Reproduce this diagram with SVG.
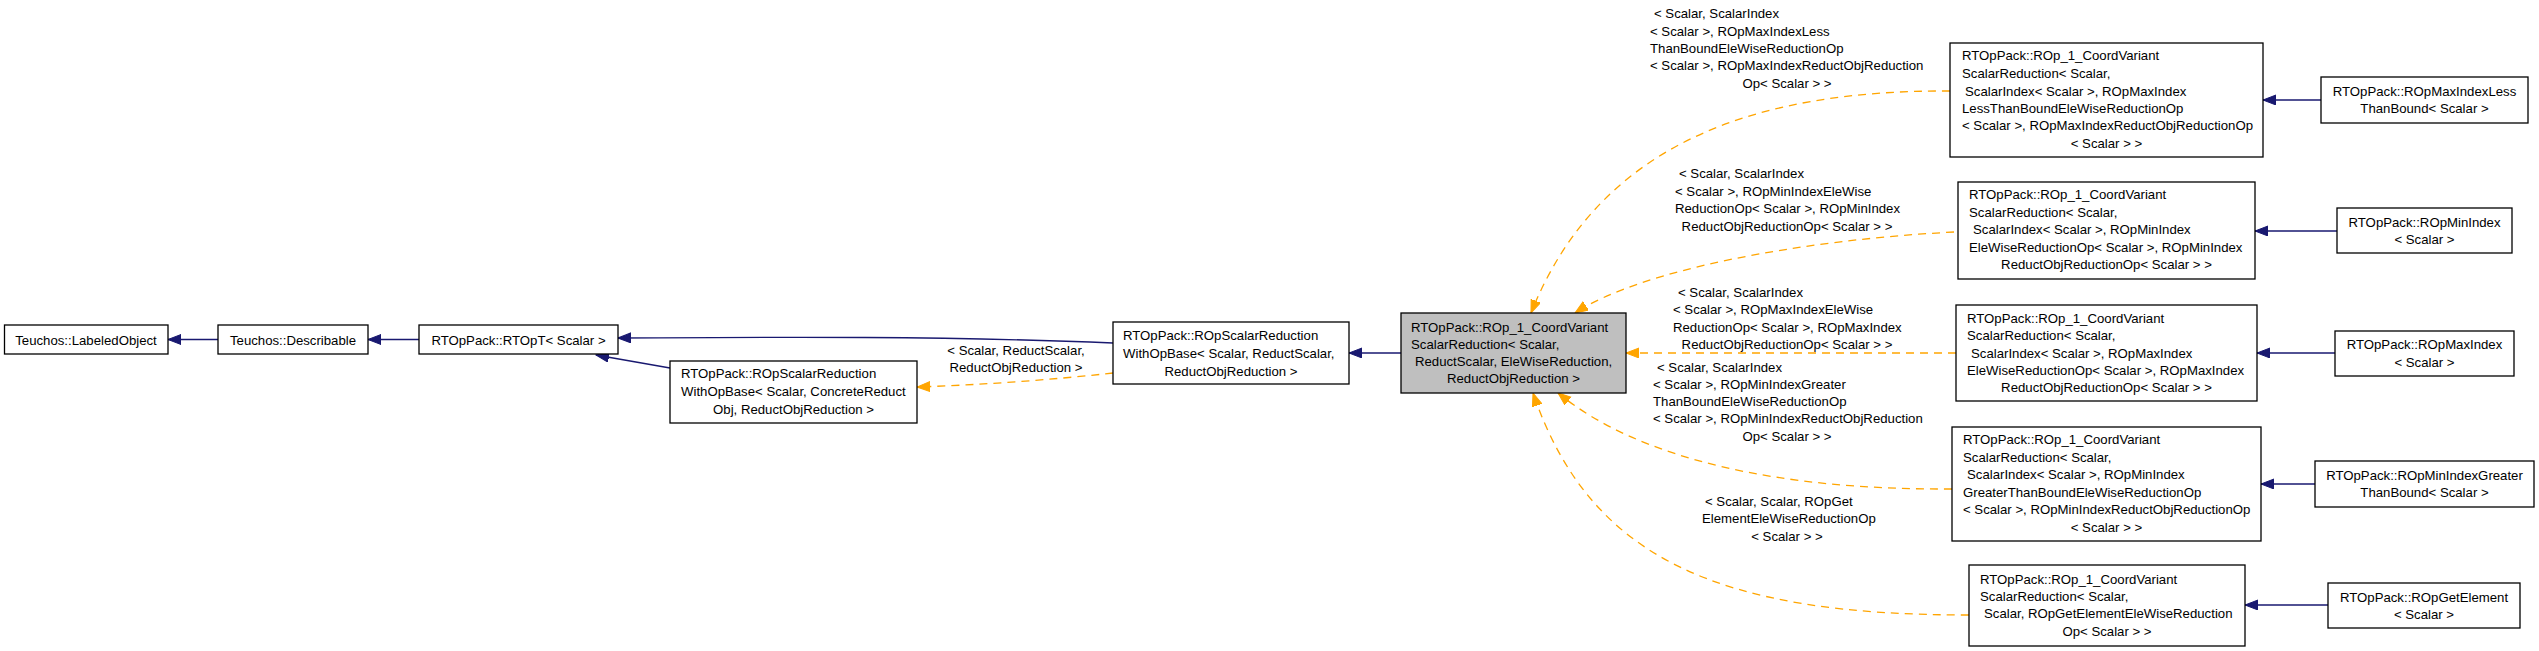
<svg xmlns="http://www.w3.org/2000/svg" width="2539" height="651" viewBox="0 0 2539 651">
<style>
  text { font-family: "Liberation Sans", Arial, sans-serif; font-size: 13.2px; fill: #000; }
  .c { text-anchor: middle; }
  .node rect { fill: #fff; stroke: #000; stroke-width: 1.3; }
  .main rect { fill: #bfbfbf; }
  .inh { fill: none; stroke: #191970; stroke-width: 1.3; }
  .tpl { fill: none; stroke: #ffa500; stroke-width: 1.3; stroke-dasharray: 8,6; }
</style>
<defs>
  <marker id="ab" markerUnits="userSpaceOnUse" markerWidth="14" markerHeight="12" refX="13" refY="5" orient="auto">
    <polygon points="0,0 13,5 0,10" fill="#191970" stroke="#191970"/>
  </marker>
  <marker id="ao" markerUnits="userSpaceOnUse" markerWidth="14" markerHeight="12" refX="13" refY="5" orient="auto">
    <polygon points="0,0 13,5 0,10" fill="#ffa500" stroke="#ffa500"/>
  </marker>
</defs>
<rect width="2539" height="651" fill="#fff"/>

<g id="connectors">
  <path class="inh" d="M218,339.5 L168,339.5" marker-end="url(#ab)"/>
  <path class="inh" d="M419,339.5 L368,339.5" marker-end="url(#ab)"/>
  <path class="inh" d="M1113,343 C950,336 780,337 618,338" marker-end="url(#ab)"/>
  <path class="inh" d="M670,368 L596,355" marker-end="url(#ab)"/>
  <path class="inh" d="M1401,353 L1349,353" marker-end="url(#ab)"/>
  <path class="tpl" d="M1113,373 C1050,380 980,385 917,387" marker-end="url(#ao)"/>
  <path class="tpl" d="M1950,91 C1760,90 1600,140 1531,313" marker-end="url(#ao)"/>
  <path class="tpl" d="M1954,232 C1800,240 1640,270 1575,313" marker-end="url(#ao)"/>
  <path class="tpl" d="M1956,353 L1626,353" marker-end="url(#ao)"/>
  <path class="tpl" d="M1952,489 C1780,490 1640,460 1558,393" marker-end="url(#ao)"/>
  <path class="tpl" d="M1969,615 C1720,615 1590,560 1533,393" marker-end="url(#ao)"/>
  <path class="inh" d="M2321,100 L2263,100" marker-end="url(#ab)"/>
  <path class="inh" d="M2337,231 L2255,231" marker-end="url(#ab)"/>
  <path class="inh" d="M2335,353 L2257,353" marker-end="url(#ab)"/>
  <path class="inh" d="M2315,484 L2261,484" marker-end="url(#ab)"/>
  <path class="inh" d="M2328,605 L2245,605" marker-end="url(#ab)"/>
</g>

<g id="edge-labels">
  <text x="1016" y="355" class="c">&lt; Scalar, ReductScalar,</text>
  <text x="1016" y="372" class="c">ReductObjReduction &gt;</text>

  <text x="1654" y="18">&lt; Scalar, ScalarIndex</text>
  <text x="1650" y="36">&lt; Scalar &gt;, ROpMaxIndexLess</text>
  <text x="1650" y="53">ThanBoundEleWiseReductionOp</text>
  <text x="1650" y="70">&lt; Scalar &gt;, ROpMaxIndexReductObjReduction</text>
  <text x="1787" y="88" class="c">Op&lt; Scalar &gt; &gt;</text>

  <text x="1679" y="178">&lt; Scalar, ScalarIndex</text>
  <text x="1675" y="195.5">&lt; Scalar &gt;, ROpMinIndexEleWise</text>
  <text x="1675" y="213">ReductionOp&lt; Scalar &gt;, ROpMinIndex</text>
  <text x="1787" y="230.5" class="c">ReductObjReductionOp&lt; Scalar &gt; &gt;</text>

  <text x="1678" y="296.5">&lt; Scalar, ScalarIndex</text>
  <text x="1673" y="314">&lt; Scalar &gt;, ROpMaxIndexEleWise</text>
  <text x="1673" y="331.5">ReductionOp&lt; Scalar &gt;, ROpMaxIndex</text>
  <text x="1787" y="349" class="c">ReductObjReductionOp&lt; Scalar &gt; &gt;</text>

  <text x="1657" y="372">&lt; Scalar, ScalarIndex</text>
  <text x="1653" y="389">&lt; Scalar &gt;, ROpMinIndexGreater</text>
  <text x="1653" y="406">ThanBoundEleWiseReductionOp</text>
  <text x="1653" y="423">&lt; Scalar &gt;, ROpMinIndexReductObjReduction</text>
  <text x="1787" y="441" class="c">Op&lt; Scalar &gt; &gt;</text>

  <text x="1705" y="506">&lt; Scalar, Scalar, ROpGet</text>
  <text x="1702" y="523">ElementEleWiseReductionOp</text>
  <text x="1787" y="541" class="c">&lt; Scalar &gt; &gt;</text>
</g>

<g id="n-labeledobject" class="node">
  <rect x="4.5" y="325" width="163.5" height="29"/>
  <text x="86" y="344.5" class="c">Teuchos::LabeledObject</text>
</g>
<g id="n-describable" class="node">
  <rect x="218" y="325" width="150" height="29"/>
  <text x="293" y="344.5" class="c">Teuchos::Describable</text>
</g>
<g id="n-rtopt" class="node">
  <rect x="419" y="325" width="199" height="29"/>
  <text x="518.5" y="344.5" class="c">RTOpPack::RTOpT&lt; Scalar &gt;</text>
</g>
<g id="n-concrete" class="node">
  <rect x="670" y="361" width="247" height="62"/>
  <text x="681" y="378">RTOpPack::ROpScalarReduction</text>
  <text x="681" y="396">WithOpBase&lt; Scalar, ConcreteReduct</text>
  <text x="793.5" y="414" class="c">Obj, ReductObjReduction &gt;</text>
</g>
<g id="n-reductscalar" class="node">
  <rect x="1113" y="322" width="236" height="62"/>
  <text x="1123" y="340">RTOpPack::ROpScalarReduction</text>
  <text x="1123" y="358">WithOpBase&lt; Scalar, ReductScalar,</text>
  <text x="1231" y="376" class="c">ReductObjReduction &gt;</text>
</g>
<g id="n-main" class="node main">
  <rect x="1401" y="313" width="225" height="80"/>
  <text x="1411" y="332">RTOpPack::ROp_1_CoordVariant</text>
  <text x="1411" y="349">ScalarReduction&lt; Scalar,</text>
  <text x="1415" y="366">ReductScalar, EleWiseReduction,</text>
  <text x="1513.5" y="383" class="c">ReductObjReduction &gt;</text>
</g>
<g id="n-rop1-maxless" class="node">
  <rect x="1950" y="43" width="313" height="114"/>
  <text x="1962" y="60">RTOpPack::ROp_1_CoordVariant</text>
  <text x="1962" y="78">ScalarReduction&lt; Scalar,</text>
  <text x="1965" y="96">ScalarIndex&lt; Scalar &gt;, ROpMaxIndex</text>
  <text x="1962" y="113">LessThanBoundEleWiseReductionOp</text>
  <text x="1962" y="130">&lt; Scalar &gt;, ROpMaxIndexReductObjReductionOp</text>
  <text x="2106.5" y="148" class="c">&lt; Scalar &gt; &gt;</text>
</g>
<g id="n-maxless" class="node">
  <rect x="2321" y="77" width="207" height="46"/>
  <text x="2424.5" y="96" class="c">RTOpPack::ROpMaxIndexLess</text>
  <text x="2424.5" y="113" class="c">ThanBound&lt; Scalar &gt;</text>
</g>
<g id="n-rop1-min" class="node">
  <rect x="1958" y="182" width="297" height="97"/>
  <text x="1969" y="199">RTOpPack::ROp_1_CoordVariant</text>
  <text x="1969" y="216.5">ScalarReduction&lt; Scalar,</text>
  <text x="1973" y="234">ScalarIndex&lt; Scalar &gt;, ROpMinIndex</text>
  <text x="1969" y="251.5">EleWiseReductionOp&lt; Scalar &gt;, ROpMinIndex</text>
  <text x="2106.5" y="269" class="c">ReductObjReductionOp&lt; Scalar &gt; &gt;</text>
</g>
<g id="n-min" class="node">
  <rect x="2337" y="208" width="175" height="45"/>
  <text x="2424.5" y="226.5" class="c">RTOpPack::ROpMinIndex</text>
  <text x="2424.5" y="244" class="c">&lt; Scalar &gt;</text>
</g>
<g id="n-rop1-max" class="node">
  <rect x="1956" y="305" width="301" height="96"/>
  <text x="1967" y="323">RTOpPack::ROp_1_CoordVariant</text>
  <text x="1967" y="340">ScalarReduction&lt; Scalar,</text>
  <text x="1971" y="358">ScalarIndex&lt; Scalar &gt;, ROpMaxIndex</text>
  <text x="1967" y="375">EleWiseReductionOp&lt; Scalar &gt;, ROpMaxIndex</text>
  <text x="2106.5" y="392" class="c">ReductObjReductionOp&lt; Scalar &gt; &gt;</text>
</g>
<g id="n-max" class="node">
  <rect x="2335" y="331" width="179" height="45"/>
  <text x="2424.5" y="349" class="c">RTOpPack::ROpMaxIndex</text>
  <text x="2424.5" y="367" class="c">&lt; Scalar &gt;</text>
</g>
<g id="n-rop1-mingreater" class="node">
  <rect x="1952" y="427" width="309" height="114"/>
  <text x="1963" y="444">RTOpPack::ROp_1_CoordVariant</text>
  <text x="1963" y="462">ScalarReduction&lt; Scalar,</text>
  <text x="1967" y="479">ScalarIndex&lt; Scalar &gt;, ROpMinIndex</text>
  <text x="1963" y="497">GreaterThanBoundEleWiseReductionOp</text>
  <text x="1963" y="514">&lt; Scalar &gt;, ROpMinIndexReductObjReductionOp</text>
  <text x="2106.5" y="532" class="c">&lt; Scalar &gt; &gt;</text>
</g>
<g id="n-mingreater" class="node">
  <rect x="2315" y="461" width="219" height="46"/>
  <text x="2424.5" y="480" class="c">RTOpPack::ROpMinIndexGreater</text>
  <text x="2424.5" y="497" class="c">ThanBound&lt; Scalar &gt;</text>
</g>
<g id="n-rop1-getelement" class="node">
  <rect x="1969" y="565" width="276" height="81"/>
  <text x="1980" y="584">RTOpPack::ROp_1_CoordVariant</text>
  <text x="1980" y="601">ScalarReduction&lt; Scalar,</text>
  <text x="1984" y="618">Scalar, ROpGetElementEleWiseReduction</text>
  <text x="2107" y="636" class="c">Op&lt; Scalar &gt; &gt;</text>
</g>
<g id="n-getelement" class="node">
  <rect x="2328" y="583" width="192" height="45"/>
  <text x="2424" y="602" class="c">RTOpPack::ROpGetElement</text>
  <text x="2424" y="619" class="c">&lt; Scalar &gt;</text>
</g>
</svg>
